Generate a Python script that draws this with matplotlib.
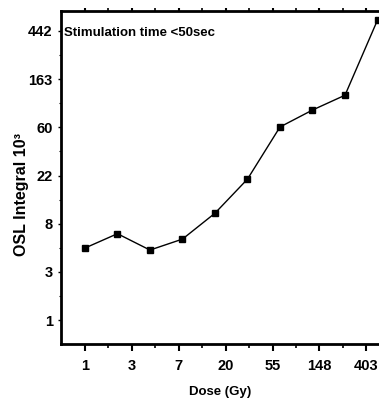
import numpy as np
import matplotlib
matplotlib.use('Agg')
import matplotlib.pyplot as plt
from matplotlib.ticker import FixedLocator, NullFormatter

plt.rcParams['font.family'] = ['Liberation Sans', 'DejaVu Sans']
plt.rcParams['font.weight'] = 'bold'

# data
dose = [1, 2, 4, 8, 16, 32, 64, 128, 256, 512]
osl = [4.9, 6.6, 4.7, 5.9, 10.1, 20.5, 60.5, 86, 117, 557]

xtick_labels = ['1', '3', '7', '20', '55', '148', '403']
ytick_labels = ['1', '3', '8', '22', '60', '163', '442']

k = np.arange(7)
xticks = np.exp(k)
yticks = 1.1 * np.exp(k)

fig = plt.figure(figsize=(3.79, 4.03), dpi=100)
ax = fig.add_axes([0.161, 0.1464, 0.839, 0.8263])

ax.plot(dose, osl, color='black', lw=1.0, marker='s', ms=4.5,
        mfc='black', mec='black', clip_on=False, zorder=3)

ax.set_xscale('log', base=np.e)
ax.set_yscale('log', base=np.e)
ax.set_xlim(np.exp(-0.51), np.exp(6.27))
ax.set_ylim(1.1 * np.exp(-0.498), 1.1 * np.exp(6.415))

ax.xaxis.set_major_locator(FixedLocator(xticks))
ax.set_xticklabels(xtick_labels)
ax.xaxis.set_minor_locator(FixedLocator(np.exp(k[:-1] + 0.5)))
ax.xaxis.set_minor_formatter(NullFormatter())
ax.yaxis.set_major_locator(FixedLocator(yticks))
ax.set_yticklabels(ytick_labels)
ax.yaxis.set_minor_locator(FixedLocator(1.1 * np.exp(k[:-1] + 0.5)))
ax.yaxis.set_minor_formatter(NullFormatter())

for s in ['left', 'bottom', 'top']:
    ax.spines[s].set_linewidth(2.0)
ax.spines['right'].set_visible(False)

ax.tick_params(axis='x', which='major', direction='out', length=5, width=1.5,
               labelsize=10.5, pad=6, top=True)
ax.tick_params(axis='x', which='minor', direction='out', length=3, width=1.2, top=True)
ax.tick_params(axis='y', which='major', direction='out', length=2, width=1,
               labelsize=10.5, pad=4)
ax.tick_params(axis='y', which='minor', direction='out', length=1.5, width=0.8)
for t in ax.xaxis.get_major_ticks() + ax.xaxis.get_minor_ticks():
    t.tick2line.set_markersize(2)

for lab in ax.get_xticklabels() + ax.get_yticklabels():
    lab.set_fontweight('bold')

ax.text(0.01, 0.935, 'Stimulation time <50sec', transform=ax.transAxes,
        fontsize=9.5, fontweight='bold', va='center', ha='left')

ax.set_xlabel('Dose (Gy)', fontsize=9.5, fontweight='bold')
ax.xaxis.set_label_coords(0.5, -0.125)
ax.set_ylabel('OSL Integral 10³', fontsize=11.5, fontweight='bold')
ax.yaxis.set_label_coords(-0.1, 0.45)

fig.savefig('out.png', dpi=100)
